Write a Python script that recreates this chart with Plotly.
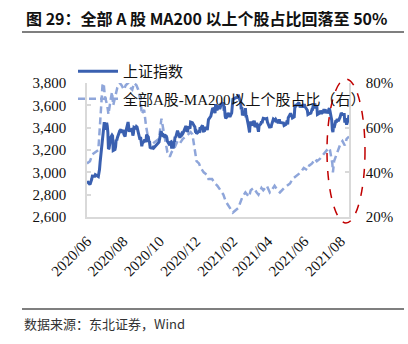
import plotly.graph_objects as go

# ---------------- data ----------------
SSE_DATES = [
"2020-06-10","2020-06-12","2020-06-15","2020-06-18","2020-06-19","2020-06-23","2020-06-24","2020-06-29","2020-06-30",
"2020-07-01","2020-07-02","2020-07-03","2020-07-06","2020-07-07","2020-07-08","2020-07-09","2020-07-10","2020-07-13",
"2020-07-14","2020-07-15","2020-07-16","2020-07-17","2020-07-20","2020-07-21","2020-07-22","2020-07-23","2020-07-24",
"2020-07-27","2020-07-28","2020-07-29","2020-07-30","2020-07-31","2020-08-03","2020-08-04","2020-08-05","2020-08-06",
"2020-08-07","2020-08-10","2020-08-11","2020-08-12","2020-08-13","2020-08-14","2020-08-17","2020-08-18","2020-08-19",
"2020-08-20","2020-08-21","2020-08-24","2020-08-25","2020-08-26","2020-08-27","2020-08-28","2020-08-31","2020-09-01",
"2020-09-02","2020-09-03","2020-09-04","2020-09-07","2020-09-08","2020-09-09","2020-09-10","2020-09-11","2020-09-14",
"2020-09-15","2020-09-16","2020-09-17","2020-09-18","2020-09-21","2020-09-22","2020-09-23","2020-09-24","2020-09-25",
"2020-09-28","2020-09-29","2020-09-30","2020-10-09","2020-10-12","2020-10-13","2020-10-14","2020-10-15","2020-10-16",
"2020-10-19","2020-10-20","2020-10-21","2020-10-22","2020-10-23","2020-10-26","2020-10-27","2020-10-28","2020-10-29",
"2020-10-30","2020-11-02","2020-11-03","2020-11-04","2020-11-05","2020-11-06","2020-11-09","2020-11-10","2020-11-11",
"2020-11-12","2020-11-13","2020-11-16","2020-11-17","2020-11-18","2020-11-19","2020-11-20","2020-11-23","2020-11-24",
"2020-11-25","2020-11-26","2020-11-27","2020-11-30","2020-12-01","2020-12-02","2020-12-03","2020-12-04","2020-12-07",
"2020-12-08","2020-12-09","2020-12-10","2020-12-11","2020-12-14","2020-12-15","2020-12-16","2020-12-17","2020-12-18",
"2020-12-21","2020-12-22","2020-12-23","2020-12-24","2020-12-25","2020-12-28","2020-12-29","2020-12-30","2020-12-31",
"2021-01-04","2021-01-05","2021-01-06","2021-01-07","2021-01-08","2021-01-11","2021-01-12","2021-01-13","2021-01-14",
"2021-01-15","2021-01-18","2021-01-19","2021-01-20","2021-01-21","2021-01-22","2021-01-25","2021-01-26","2021-01-27",
"2021-01-28","2021-01-29","2021-02-01","2021-02-02","2021-02-03","2021-02-04","2021-02-05","2021-02-08","2021-02-09",
"2021-02-10","2021-02-18","2021-02-19","2021-02-22","2021-02-23","2021-02-24","2021-02-25","2021-02-26","2021-03-01",
"2021-03-02","2021-03-03","2021-03-04","2021-03-05","2021-03-08","2021-03-09","2021-03-10","2021-03-11","2021-03-12",
"2021-03-15","2021-03-16","2021-03-17","2021-03-18","2021-03-19","2021-03-22","2021-03-23","2021-03-24","2021-03-25",
"2021-03-26","2021-03-29","2021-03-30","2021-03-31","2021-04-01","2021-04-02","2021-04-06","2021-04-07","2021-04-08",
"2021-04-09","2021-04-12","2021-04-13","2021-04-14","2021-04-15","2021-04-16","2021-04-19","2021-04-20","2021-04-21",
"2021-04-22","2021-04-23","2021-04-26","2021-04-27","2021-04-28","2021-04-29","2021-04-30","2021-05-06","2021-05-07",
"2021-05-10","2021-05-11","2021-05-12","2021-05-13","2021-05-14","2021-05-17","2021-05-18","2021-05-19","2021-05-20",
"2021-05-21","2021-05-24","2021-05-25","2021-05-26","2021-05-27","2021-05-28","2021-05-31","2021-06-01","2021-06-02",
"2021-06-03","2021-06-04","2021-06-07","2021-06-08","2021-06-09","2021-06-10","2021-06-11","2021-06-15","2021-06-16",
"2021-06-17","2021-06-18","2021-06-21","2021-06-22","2021-06-23","2021-06-24","2021-06-25","2021-06-28","2021-06-29",
"2021-06-30","2021-07-01","2021-07-02","2021-07-05","2021-07-06","2021-07-07","2021-07-08","2021-07-09","2021-07-12",
"2021-07-13","2021-07-14","2021-07-15","2021-07-16","2021-07-19","2021-07-20","2021-07-21","2021-07-22","2021-07-23",
"2021-07-26","2021-07-27","2021-07-28","2021-07-29","2021-07-30","2021-08-02","2021-08-03","2021-08-04","2021-08-05",
"2021-08-06","2021-08-09","2021-08-10","2021-08-11","2021-08-12","2021-08-13","2021-08-16","2021-08-17","2021-08-18",
"2021-08-19","2021-08-20","2021-08-23","2021-08-24",
]
SSE_VALUES = [
2920,2905,2890,2940,2967,2965,2979,2962,2985,
3025,3090,3152,3332,3345,3403,3450,3383,3443,
3415,3361,3210,3214,3314,3320,3333,3325,3196,
3205,3228,3294,3286,3310,3367,3371,3377,3386,
3354,3379,3340,3320,3320,3360,3438,3451,3408,
3363,3380,3385,3374,3329,3350,3404,3396,3410,
3405,3384,3355,3292,3316,3254,3234,3260,3278,
3295,3283,3270,3338,3316,3274,3279,3223,3219,
3217,3224,3218,3272,3359,3359,3340,3332,3336,
3313,3328,3325,3312,3278,3251,3254,3270,3273,
3225,3225,3272,3277,3320,3312,3373,3360,3342,
3338,3310,3346,3339,3347,3363,3378,3414,3402,
3363,3369,3408,3392,3451,3449,3443,3445,3416,
3410,3371,3373,3347,3369,3367,3366,3404,3395,
3421,3357,3383,3363,3397,3397,3379,3415,3473,
3503,3528,3551,3576,3570,3531,3608,3598,3566,
3566,3596,3566,3583,3621,3607,3624,3570,3573,
3505,3483,3505,3533,3518,3501,3496,3532,3604,
3655,3675,3696,3642,3637,3564,3585,3509,3551,
3508,3576,3503,3502,3421,3360,3357,3436,3454,
3419,3447,3445,3463,3405,3443,3411,3367,3363,
3418,3435,3457,3441,3467,3484,3478,3479,3482,
3451,3413,3397,3417,3399,3426,3477,3473,3473,
3465,3474,3441,3442,3457,3474,3447,3441,3419,
3428,3441,3462,3429,3490,3517,3529,3510,3507,
3487,3497,3581,3593,3609,3601,3615,3625,3597,
3584,3592,3599,3580,3591,3610,3590,3556,3518,
3525,3525,3530,3557,3566,3566,3607,3606,3574,
3591,3588,3518,3534,3531,3553,3526,3525,3547,
3567,3528,3565,3539,3539,3537,3563,3574,3550,
3467,3382,3361,3412,3397,3465,3447,3477,3466,
3458,3494,3530,3532,3525,3517,3517,3446,3485,
3465,3427,3477,3514,
]

PCT_DATES = [
"2020-06-10","2020-06-15","2020-06-19","2020-06-24","2020-06-29","2020-07-02","2020-07-06","2020-07-08","2020-07-10",
"2020-07-14","2020-07-16","2020-07-20","2020-07-22","2020-07-24","2020-07-28","2020-07-31","2020-08-04","2020-08-07",
"2020-08-11","2020-08-14","2020-08-18","2020-08-21","2020-08-25","2020-08-28","2020-09-01","2020-09-04","2020-09-08",
"2020-09-10","2020-09-14","2020-09-17","2020-09-21","2020-09-24","2020-09-29","2020-10-09","2020-10-13","2020-10-15",
"2020-10-19","2020-10-23","2020-10-27","2020-10-30","2020-11-04","2020-11-09","2020-11-13","2020-11-18","2020-11-23",
"2020-11-27","2020-12-01","2020-12-04","2020-12-08","2020-12-11","2020-12-15","2020-12-18","2020-12-23","2020-12-28",
"2020-12-31","2021-01-06","2021-01-11","2021-01-15","2021-01-20","2021-01-25","2021-01-29","2021-02-03","2021-02-08",
"2021-02-10","2021-02-19","2021-02-23","2021-02-26","2021-03-03","2021-03-09","2021-03-12","2021-03-17","2021-03-22",
"2021-03-25","2021-03-30","2021-04-02","2021-04-08","2021-04-13","2021-04-16","2021-04-21","2021-04-26","2021-04-30",
"2021-05-07","2021-05-12","2021-05-17","2021-05-21","2021-05-26","2021-06-01","2021-06-04","2021-06-09","2021-06-15",
"2021-06-18","2021-06-23","2021-06-28","2021-07-01","2021-07-06","2021-07-12","2021-07-16","2021-07-21","2021-07-23",
"2021-07-27","2021-07-28","2021-07-30","2021-08-03","2021-08-06","2021-08-10","2021-08-13","2021-08-17","2021-08-20",
"2021-08-24",
]
PCT_VALUES = [
44,45,48,49,50,62,79,80,74,
70,66,73,76,70,75,78,80,79,
77,79,80,78,77,80,79,77,72,
66,68,61,55,52,53,55,64,61,
55,49,47,49,51,54,53,55,56,
57,58,57,51,45,44,42,40,39,
37,37,35,34,32,30,27,25,23,
22,24,27,29,31,29,32,33,31,
30,33,32,34,31,32,34,32,31,
33,34,35,37,38,39,40,42,41,
43,44,46,45,46,48,49,51,50,
44,40,45,48,50,53,54,52,55,
56,
]

TICK_DATES = ["2020-06-10","2020-08-10","2020-10-10","2020-12-10",
              "2021-02-10","2021-04-10","2021-06-10","2021-08-10"]
TICK_LABELS = ["2020/06","2020/08","2020/10","2020/12",
               "2021/02","2021/04","2021/06","2021/08"]

NAME_SSE = "上证指数"
NAME_PCT = "全部A股-MA200以上个股占比（右）"
TITLE = "图 29：全部 A 股 MA200 以上个股占比回落至 50%"
SOURCE = "数据来源：东北证券，Wind"

# ---------------- figure ----------------
W, H = 408, 344
L, R, T, B = 87, 349, 83, 217   # plot area in pixels

def px_x(p):
    return (p - L) / (R - L)

def px_y(p):
    return (B - p) / (B - T)

SERIF = "Liberation Serif"
LEGEND_FONT = "Liberation Serif, Noto Sans CJK SC"
CJK = "Noto Sans CJK SC"

fig = go.Figure()
fig.add_trace(go.Scatter(
    x=SSE_DATES, y=SSE_VALUES, name=NAME_SSE, yaxis="y2", mode="lines",
    line=dict(color="#3A60B0", width=3), legendgroup="a"))
fig.add_trace(go.Scatter(
    x=PCT_DATES, y=PCT_VALUES, name=NAME_PCT, yaxis="y", mode="lines",
    line=dict(color="#8FA6DA", width=2.5, dash="7px,4px"), legendgroup="b"))

axis_line = dict(showline=True, linecolor="#D9D9D9", linewidth=1.5,
                 showgrid=False, zeroline=False)

fig.update_layout(
    width=W, height=H,
    margin=dict(l=L, r=W - R, t=T, b=H - B),
    paper_bgcolor="white", plot_bgcolor="white",
    showlegend=True,
    legend=dict(x=px_x(73), y=px_y(55), xanchor="left", yanchor="top",
                bgcolor="rgba(0,0,0,0)", font=dict(family=LEGEND_FONT, size=15, color="#111"),
                tracegroupgap=5, itemwidth=40),
    xaxis=dict(type="date", range=["2020-06-10", "2021-08-24"],
               tickmode="array", tickvals=TICK_DATES, ticktext=TICK_LABELS,
               tickangle=-45, ticks="", ticklabelstandoff=8,
               tickfont=dict(family=SERIF, size=15, color="#111"), **axis_line),
    yaxis=dict(side="right", range=[20, 80], dtick=20, ticksuffix="%",
               ticks="inside", ticklen=4, tickcolor="#D9D9D9", tickwidth=1.5,
               ticklabelstandoff=12,
               tickfont=dict(family=SERIF, size=15, color="#111"), **axis_line),
    yaxis2=dict(side="left", overlaying="y", range=[2600, 3800], dtick=200,
                tickformat=",", ticks="inside", ticklen=4, tickcolor="#D9D9D9",
                tickwidth=1.5, ticklabelstandoff=16,
                tickfont=dict(family=SERIF, size=15, color="#111"), **axis_line),
    shapes=[
        dict(type="line", xref="paper", yref="paper", x0=px_x(22), x1=px_x(404),
             y0=px_y(32), y1=px_y(32), line=dict(color="#555", width=1.5)),
        dict(type="line", xref="paper", yref="paper", x0=px_x(22), x1=px_x(404),
             y0=px_y(309), y1=px_y(309), line=dict(color="#555", width=1.5)),
        dict(type="circle", xref="paper", yref="paper", x0=px_x(327), x1=px_x(365),
             y0=px_y(223), y1=px_y(79), line=dict(color="#C00000", width=1.5, dash="dash")),
    ],
    annotations=[
        dict(text="<b>" + TITLE + "</b>", xref="paper", yref="paper",
             x=px_x(24), y=px_y(18), xanchor="left", yanchor="middle", showarrow=False,
             font=dict(family=CJK, size=16, color="#111")),
        dict(text=SOURCE, xref="paper", yref="paper",
             x=px_x(22), y=px_y(323), xanchor="left", yanchor="middle", showarrow=False,
             font=dict(family=CJK, size=13, color="#333")),
    ],
)

fig.write_html("out.html")
